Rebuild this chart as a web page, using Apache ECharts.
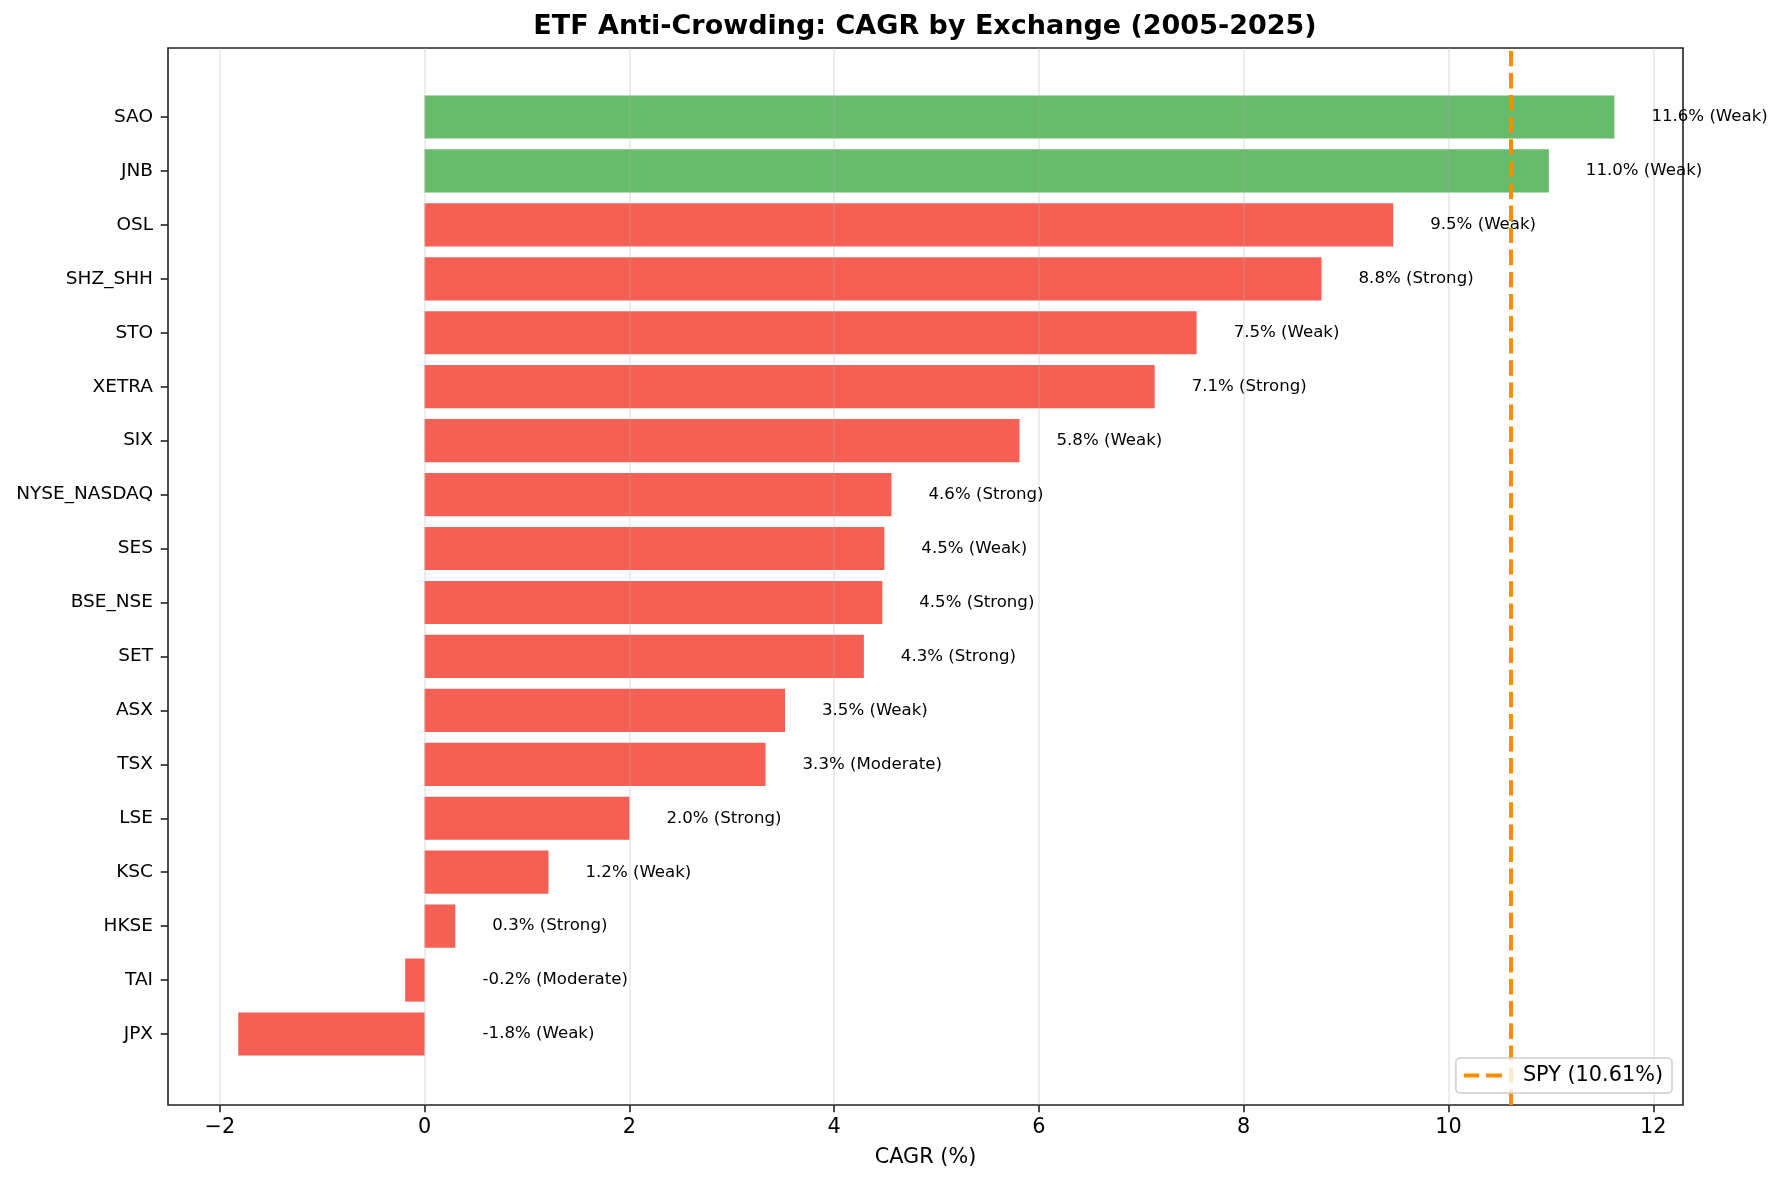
<!DOCTYPE html>
<html>
<head>
<meta charset="utf-8">
<title>ETF Anti-Crowding</title>
<script src="https://cdn.jsdelivr.net/npm/echarts@6/dist/echarts.min.js"></script>
<style>
  html, body { margin: 0; padding: 0; background: #fff; }
  #main { width: 1781px; height: 1182px; }
</style>
</head>
<body>
<div id="main"></div>
<script>
// 交易所 / CAGR / 拥挤度强度
var exchanges = ['SAO', 'JNB', 'OSL', 'SHZ_SHH', 'STO', 'XETRA', 'SIX', 'NYSE_NASDAQ', 'SES',
  'BSE_NSE', 'SET', 'ASX', 'TSX', 'LSE', 'KSC', 'HKSE', 'TAI', 'JPX'];
var cagr = [11.62, 10.98, 9.46, 8.76, 7.54, 7.13, 5.81, 4.56, 4.49,
  4.47, 4.29, 3.52, 3.33, 2.00, 1.21, 0.30, -0.19, -1.82];
var strength = ['Weak', 'Weak', 'Weak', 'Strong', 'Weak', 'Strong', 'Weak', 'Strong', 'Weak',
  'Strong', 'Strong', 'Weak', 'Moderate', 'Strong', 'Weak', 'Strong', 'Moderate', 'Weak'];
var spyCagr = 10.61;
var xTicks = [-2, 0, 2, 4, 6, 8, 10, 12];

var FONT = 'DejaVu Sans';
var X_MIN = -2.506, X_MAX = 12.29;

var chart = echarts.init(document.getElementById('main'));

// 柱子颜色: 超过SPY为绿色
var barData = cagr.map(function (v) {
  return {
    value: v,
    itemStyle: { color: v > spyCagr ? '#67BB6A' : '#F65F54' }
  };
});
// 标签用透明柱子承载,保证在网格线上方
var labelData = cagr.map(function (v, i) {
  return {
    value: v,
    label: {
      distance: v < 0 ? 58 : 37,
      formatter: v.toFixed(1) + '% (' + strength[i] + ')'
    }
  };
});

var option = {
  animation: false,
  backgroundColor: '#fff',
  title: {
    text: 'ETF Anti-Crowding: CAGR by Exchange (2005-2025)',
    left: 925,
    top: 13,
    textAlign: 'center',
    padding: 0,
    textStyle: {
      fontFamily: FONT,
      fontWeight: 'bold',
      fontSize: 27,
      color: '#000'
    }
  },
  legend: {
    // 图例图标:两段虚线
    data: [{ name: 'SPY (10.61%)', icon: 'path://M0,0H15.4V4H0Z M22.1,0H38V4H22.1Z' }],
    right: 109,
    bottom: 89,
    padding: [7, 9, 7, 8],
    itemWidth: 38,
    itemHeight: 4,
    backgroundColor: 'rgba(255,255,255,0.8)',
    borderColor: '#cccccc',
    borderWidth: 1.5,
    borderRadius: 4,
    z: 10,
    textStyle: {
      fontFamily: FONT,
      fontSize: 20.8,
      color: '#000',
      padding: [0, 0, 0, 16]
    }
  },
  grid: [
    // 外框 + x轴
    { left: 168, right: 98, top: 48, bottom: 77, show: true, borderColor: '#222', borderWidth: 1.6, backgroundColor: 'transparent' },
    // 柱子区域(上下留白)
    { left: 168, right: 98, top: 90, bottom: 121 }
  ],
  xAxis: [
    {
      gridIndex: 0,
      type: 'value',
      min: X_MIN,
      max: X_MAX,
      z: 1.5,
      name: 'CAGR (%)',
      nameLocation: 'middle',
      nameGap: 42,
      nameTextStyle: { fontFamily: FONT, fontSize: 20.8, color: '#000' },
      axisLine: { show: false },
      axisTick: {
        show: true,
        customValues: xTicks,
        length: 7.3,
        lineStyle: { color: '#222', width: 1.6 }
      },
      axisLabel: {
        customValues: xTicks,
        margin: 12,
        fontFamily: FONT,
        fontSize: 20.8,
        color: '#000',
        formatter: function (v) {
          return v < 0 ? '\u2212' + Math.abs(v) : String(v);
        }
      },
      splitLine: {
        show: true,
        lineStyle: { color: 'rgba(176,176,176,0.3)', width: 1.6 }
      }
    },
    {
      gridIndex: 1,
      type: 'value',
      min: X_MIN,
      max: X_MAX,
      show: false
    }
  ],
  yAxis: [
    {
      gridIndex: 0,
      type: 'value',
      min: 0,
      max: 1,
      show: false
    },
    {
      gridIndex: 1,
      type: 'category',
      data: exchanges,
      inverse: true,
      position: 'left',
      axisLine: { show: false, onZero: false },
      axisTick: {
        show: true,
        alignWithLabel: true,
        length: 7.3,
        lineStyle: { color: '#222', width: 1.6 }
      },
      axisLabel: {
        margin: 15,
        fontFamily: FONT,
        fontSize: 18.5,
        color: '#000'
      },
      splitLine: { show: false }
    }
  ],
  series: [
    {
      name: 'CAGR',
      type: 'bar',
      xAxisIndex: 1,
      yAxisIndex: 1,
      barWidth: '80%',
      z: 1,
      silent: true,
      data: barData
    },
    {
      name: 'CAGR-label',
      type: 'bar',
      xAxisIndex: 1,
      yAxisIndex: 1,
      barWidth: '80%',
      barGap: '-100%',
      z: 3,
      silent: true,
      itemStyle: { color: 'rgba(0,0,0,0)' },
      label: {
        show: true,
        position: 'right',
        fontFamily: FONT,
        fontSize: 16.6,
        color: '#000'
      },
      data: labelData
    },
    {
      name: 'SPY (10.61%)',
      type: 'line',
      xAxisIndex: 0,
      yAxisIndex: 0,
      symbol: 'none',
      z: 4,
      silent: true,
      lineStyle: { color: '#FF8C00', width: 4, type: [15.4, 6.7] },
      itemStyle: { color: '#FF8C00' },
      data: [[spyCagr, 0], [spyCagr, 1]]
    }
  ]
};

chart.setOption(option);
</script>
</body>
</html>
